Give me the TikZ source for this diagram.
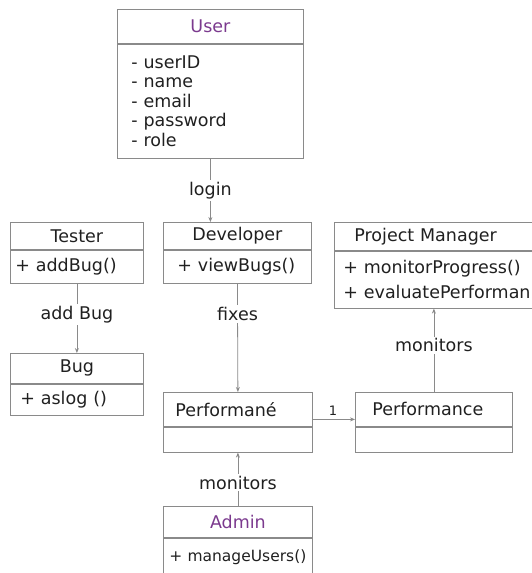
\documentclass[tikz,border=0pt]{standalone}
\usepackage{fontspec}
\setmainfont{DejaVu Sans}
\usetikzlibrary{arrows.meta}

\definecolor{lineg}{HTML}{8A8A8A}
\definecolor{textg}{HTML}{202020}
\definecolor{umlpurple}{HTML}{7B3A8E}

\begin{document}
\begin{tikzpicture}[x=1pt, y=-1pt,
    box/.style={draw=lineg, line width=0.8pt, anchor=north west, inner sep=0pt,
      font=\fontsize{17.5}{19.5}\selectfont, text=textg},
    head/.style={box, align=center},
    body/.style={box, align=left},
    arr/.style={draw=lineg, line width=0.8pt, -{Stealth[length=5pt, width=4pt]}},
    lbl/.style={fill=white, inner sep=2pt, font=\fontsize{17.5}{19}\selectfont, text=textg}]
  \useasboundingbox (0,0) rectangle (531,573);

  % user
  \node[head, minimum width=186, minimum height=34, text=umlpurple] (user) at (117,9) {User};
  \node[body, minimum height=114, text width=158, inner xsep=14] (userattr) at (user.south west)
    {- userID\\- name\\- email\\- password\\- role};

  % tester and bug
  \node[head, minimum width=133, minimum height=27] (tester) at (10,222) {Tester};
  \node[body, minimum height=33, text width=123, inner xsep=5] (testerops) at (tester.south west) {+ addBug()};
  \node[head, minimum width=133, minimum height=30] (bug) at (10,353) {Bug};
  \node[body, minimum height=31, text width=113, inner xsep=10] (bugops) at (bug.south west) {+ aslog ()};

  % developer
  \node[head, minimum width=148, minimum height=27] (dev) at (163,222) {Developer};
  \node[body, minimum height=33, text width=120, inner xsep=14] (devops) at (dev.south west) {+ viewBugs()};

  % project manager (runs off the right edge)
  \node[body, minimum height=28, text width=170, inner xsep=20] (pm) at (334,222) {Project Manager};
  \node[body, minimum height=57, text width=192, inner xsep=9, font=\fontsize{17.5}{25}\selectfont]
    (pmops) at (pm.south west) {+ monitorProgress()\\+ evaluatePerforman};

  % performance boxes
  \node[body, minimum height=34, text width=125, inner xsep=12] (perfa) at (163,392) {Performané};
  \node[box, minimum width=149, minimum height=25] (perfaops) at (perfa.south west) {};
  \node[body, minimum height=34, text width=123, inner xsep=17] (perf) at (355,392) {Performance};
  \node[box, minimum width=157, minimum height=25] (perfops) at (perf.south west) {};

  % admin
  \node[head, minimum width=149, minimum height=31, text=umlpurple] (admin) at (163,506) {Admin};
  \node[body, minimum height=38, text width=137, inner xsep=6, font=\fontsize{15.5}{17}\selectfont]
    (adminops) at (admin.south west) {+ manageUsers()};

  % connectors
  \draw[arr] (userattr.south) -- (userattr.south |- dev.north) node[lbl, midway] {login};
  \draw[arr] (testerops.south) -- (bug.north) node[lbl, pos=0.45] {add Bug};
  \draw[arr] (devops.south) -- (perfa.north) node[lbl, pos=0.28] {fixes};
  \draw[arr] (perf.north) -- (perf.north |- pmops.south) node[lbl, pos=0.56] {monitors};
  \draw[arr] (admin.north) -- (perfaops.south) node[lbl, pos=0.44] {monitors};
  \draw[arr] ([yshift=-10pt]perfa.east) -- ([yshift=-10pt]perf.west)
    node[pos=0.48, above=4pt, inner sep=0pt, font=\fontsize{13}{14}\selectfont, text=textg] {1};
\end{tikzpicture}
\end{document}
